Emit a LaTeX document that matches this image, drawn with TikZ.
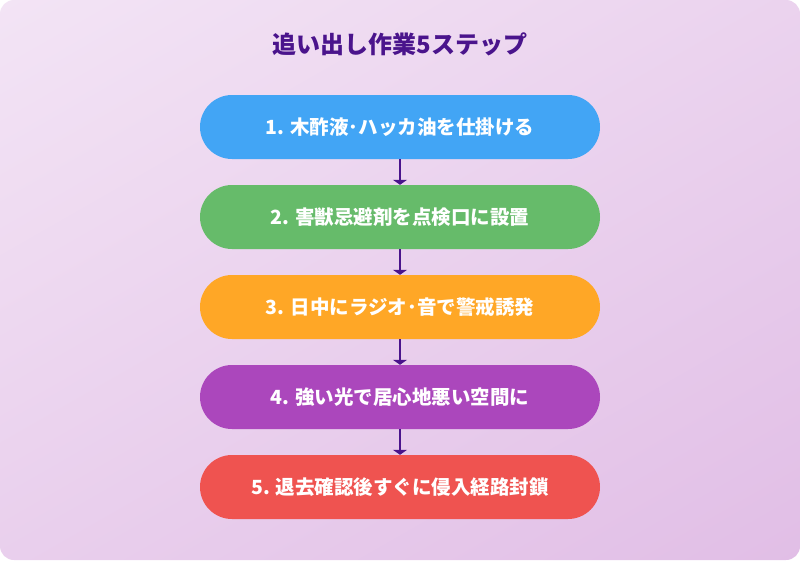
\documentclass[tikz,border=0pt]{standalone}
\usepackage{fontspec}
\newfontfamily\cjk{Noto Sans CJK JP}
\usetikzlibrary{arrows.meta,shadings}
\definecolor{bgA}{RGB}{243,228,245}
\definecolor{bgB}{RGB}{225,190,230}
\definecolor{titlec}{HTML}{4A148C}
\definecolor{c1}{HTML}{42A5F5}
\definecolor{c2}{HTML}{66BB6A}
\definecolor{c3}{HTML}{FFA726}
\definecolor{c4}{HTML}{AB47BC}
\definecolor{c5}{HTML}{EF5350}
\tikzset{
  stepbox/.style={rounded corners=32pt, minimum width=400pt, minimum height=64pt,
    inner sep=0pt, text=white, font=\cjk\bfseries\fontsize{19.5pt}{22pt}\selectfont},
  conn/.style={draw=titlec, line width=2.8pt, -{Triangle[width=14pt,length=5pt]}}
}
\begin{document}
\begin{tikzpicture}[x=1pt,y=-1pt]
\useasboundingbox (0,0) rectangle (800,560);
\fill[white] (0,0) rectangle (800,560);
\shade[rounded corners=14pt, upper left=bgA, upper right=bgA!55!bgB, lower left=bgA!45!bgB, lower right=bgB] (0,0) rectangle (800,560);
\node[font=\cjk\bfseries\fontsize{24pt}{26pt}\selectfont, text=titlec] (title) at (400,44) {追い出し作業5ステップ};
\node[stepbox, fill=c1] (s1) at (400,127) {1. 木酢液･ハッカ油を仕掛ける};
\node[stepbox, fill=c2] (s2) at (400,217) {2. 害獣忌避剤を点検口に設置};
\node[stepbox, fill=c3] (s3) at (400,307) {3. 日中にラジオ･音で警戒誘発};
\node[stepbox, fill=c4] (s4) at (400,397) {4. 強い光で居心地悪い空間に};
\node[stepbox, fill=c5] (s5) at (400,487) {5. 退去確認後すぐに侵入経路封鎖};
\draw[conn] (s1) -- (s2);
\draw[conn] (s2) -- (s3);
\draw[conn] (s3) -- (s4);
\draw[conn] (s4) -- (s5);
\end{tikzpicture}
\end{document}
